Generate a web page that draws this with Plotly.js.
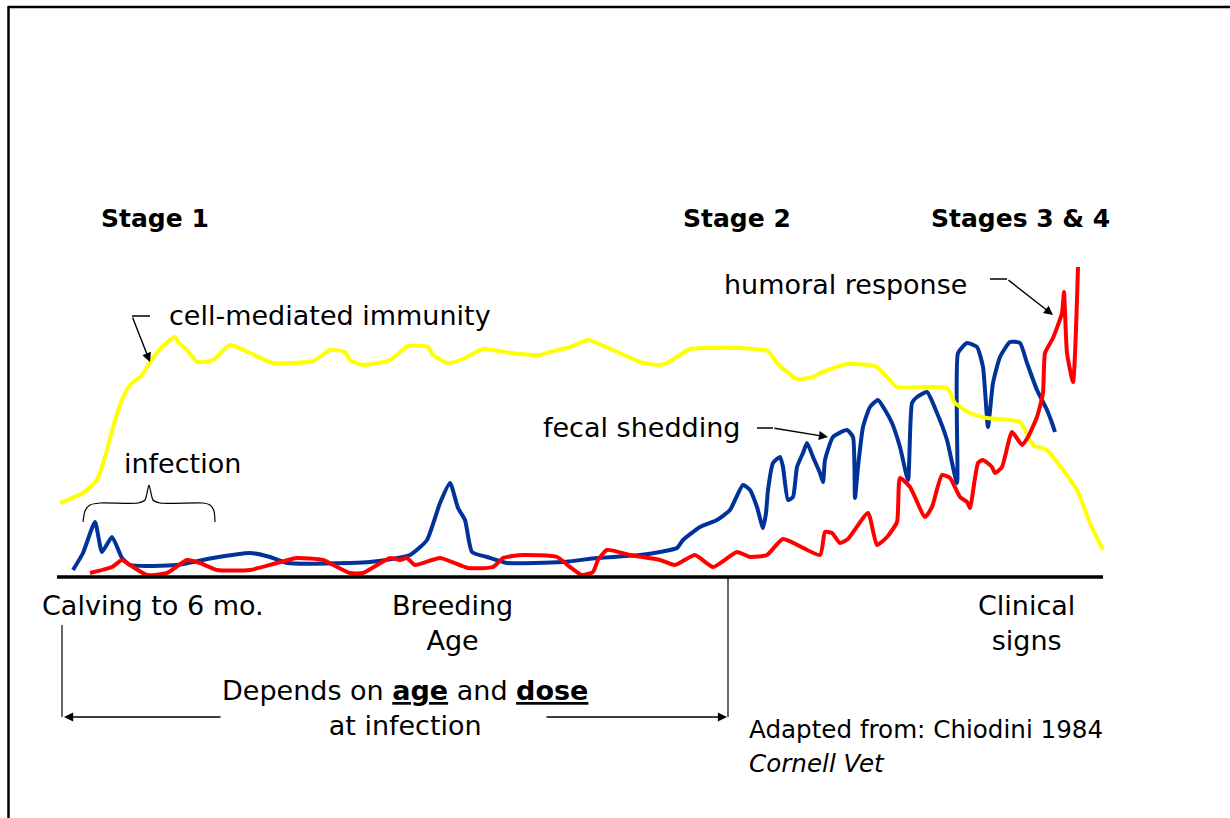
<!DOCTYPE html>
<html>
<head>
<meta charset="utf-8">
<script src="https://cdn.plot.ly/plotly-3.0.1.min.js"></script>
<style>html,body{margin:0;padding:0;background:#fff;}#chart{width:1230px;height:818px;}</style>
</head>
<body>
<div id="chart"></div>
<script>
// Time axis (arbitrary units along the life of the animal) and response level above baseline
const cmiX = [60,83,97,105,113,122,130,142,150,162,175,178,187,197,213,230,250,273,313,330,345,350,363,390,408,428,433,448,463,483,510,540,550,570,588,613,643,660,667,690,707,740,768,777,797,813,820,847,870,877,885,897,947,955,970,987,1020,1033,1047,1063,1077,1090,1103];
const cmiY = [74,84,97,120,150,177,192,202,215,230,240,235,227,215,217,232,224,214,216,227,225,217,212,217,231,230,222,214,218,228,224,222,225,230,237,227,214,212,214,228,229,229,226,214,198,200,204,213,212,210,202,190,189,174,164,159,155,132,127,107,87,54,27];

const shedX = [73,83,95,102,112,122,130,177,213,250,270,287,350,370,410,427,440,450,458,465,472,487,507,563,597,640,660,677,683,700,717,730,743,750,757,763,766,768,773,780,783,788,793,797,803,807,813,820,823,825,833,847,853,855,858,863,870,878,885,892,900,908,912,917,927,937,947,957,958,967,977,983,988,993,1000,1010,1020,1027,1037,1047,1052,1055];
const shedY = [7,24,55,25,40,19,12,12,19,24,20,14,14,15,22,37,74,94,69,57,25,20,14,15,19,22,25,29,37,50,57,67,92,87,70,49,64,87,114,120,110,77,80,110,124,134,120,104,95,117,140,147,140,79,110,150,170,177,167,154,130,97,174,180,185,164,137,94,224,234,230,210,150,194,220,235,234,214,187,167,154,145];

const humoralX = [90,112,122,130,147,167,187,200,217,250,277,297,323,337,350,363,390,400,407,415,440,468,493,503,523,557,570,582,593,598,607,630,660,675,695,713,737,750,767,783,820,825,832,840,848,868,877,887,897,900,910,925,932,942,950,960,967,970,978,983,992,995,1002,1012,1022,1028,1037,1043,1045,1053,1062,1064,1067,1073,1078];
const humoralY = [4,10,17,12,2,4,17,14,7,7,14,19,17,10,4,4,19,17,19,12,19,9,10,19,22,20,10,2,5,17,27,22,17,12,22,10,25,20,22,38,22,45,44,34,38,64,32,40,55,99,90,60,70,102,99,80,75,69,114,117,110,104,110,145,132,140,160,184,224,239,264,285,224,195,310];

// Brace over the infection period
const braceX = [83,85,90,100,138,145,149,153,160,203,210,214,215];
const braceY = [55,66,72,74,74,77,92,77,74,74,72,66,55];

// Leader segments of bent arrows
const cmiLeadX = [150,132], cmiLeadY = [261,261];
const humLeadX = [990,1007], humLeadY = [298,298];
const shedLeadX = [757,773], shedLeadY = [149,149];

const FONT = "DejaVu Sans, Verdana, sans-serif";

const traces = [
  {x: shedX, y: shedY, mode: 'lines', line: {color: '#003399', width: 4, shape: 'spline', smoothing: 0.5}, hoverinfo: 'skip'},
  {x: cmiX, y: cmiY, mode: 'lines', line: {color: '#FFFF00', width: 4, shape: 'spline', smoothing: 0.5}, hoverinfo: 'skip'},
  {x: humoralX, y: humoralY, mode: 'lines', line: {color: '#FF0000', width: 4, shape: 'spline', smoothing: 0.5}, hoverinfo: 'skip'},
  {x: braceX, y: braceY, mode: 'lines', line: {color: '#000', width: 1.2, shape: 'spline', smoothing: 0.6}, hoverinfo: 'skip'},
  {x: cmiLeadX, y: cmiLeadY, mode: 'lines', line: {color: '#000', width: 1.5}, hoverinfo: 'skip'},
  {x: humLeadX, y: humLeadY, mode: 'lines', line: {color: '#000', width: 1.5}, hoverinfo: 'skip'},
  {x: shedLeadX, y: shedLeadY, mode: 'lines', line: {color: '#000', width: 1.5}, hoverinfo: 'skip'}
];

function txt(x, y, text, size, opts) {
  return Object.assign({x: x, y: y, xref: 'x', yref: 'y', text: text, showarrow: false,
    font: {family: FONT, size: size, color: '#000'}, xanchor: 'center', yanchor: 'middle'}, opts || {});
}
function arrow(x, y, ax, ay) {
  return {x: x, y: y, ax: ax, ay: ay, xref: 'x', yref: 'y', axref: 'x', ayref: 'y', text: '',
    showarrow: true, arrowhead: 2, arrowsize: 1.3, arrowwidth: 1.4, arrowcolor: '#000'};
}

const annotations = [
  txt(155, 359, '<b>Stage 1</b>', 25),
  txt(737, 359, '<b>Stage 2</b>', 25),
  txt(1020, 359, '<b>Stages 3 &amp; 4</b>', 25),
  txt(845, 293, 'humoral response', 27),
  txt(330, 262, 'cell-mediated immunity', 27),
  txt(641, 150, 'fecal shedding', 27),
  txt(182, 114, 'infection', 27),
  txt(153, -28, 'Calving to 6 mo.', 27),
  txt(452, -46, 'Breeding<br>Age', 27),
  txt(1026, -46, 'Clinical<br>signs', 27),
  txt(405, -131, 'Depends on <b><u>age</u></b> and <b><u>dose</u></b><br>at infection', 27),
  txt(747, -152, 'Adapted from: Chiodini 1984', 24.6, {xanchor: 'left'}),
  txt(747, -186, '<i>Cornell Vet</i>', 24.6, {xanchor: 'left'}),
  arrow(150, 215, 132, 261),
  arrow(1053, 262, 1007, 298),
  arrow(828, 140, 773, 149),
  arrow(64, -140, 222, -140),
  arrow(727, -140, 545, -140)
];

const shapes = [
  {type: 'line', xref: 'x', yref: 'y', x0: 57, x1: 1103, y0: 0, y1: 0, line: {color: '#000', width: 3.5}},
  {type: 'line', xref: 'x', yref: 'y', x0: 728, x1: 728, y0: 0, y1: -140, line: {color: '#000', width: 1.2}},
  {type: 'line', xref: 'x', yref: 'y', x0: 62, x1: 62, y0: -48, y1: -140, line: {color: '#000', width: 1.2}},
  {type: 'line', xref: 'paper', yref: 'paper', x0: 8/1230, x1: 1, y0: 1 - 7/818, y1: 1 - 7/818, line: {color: '#000', width: 2.5}},
  {type: 'line', xref: 'paper', yref: 'paper', x0: 8.5/1230, x1: 8.5/1230, y0: 0, y1: 1 - 6/818, line: {color: '#000', width: 2.5}}
];

const layout = {
  width: 1230, height: 818,
  margin: {l: 0, r: 0, t: 0, b: 0},
  paper_bgcolor: '#fff', plot_bgcolor: '#fff',
  showlegend: false,
  xaxis: {range: [0, 1230], visible: false, fixedrange: true},
  yaxis: {range: [-241, 577], visible: false, fixedrange: true},
  annotations: annotations,
  shapes: shapes,
  font: {family: FONT}
};

Plotly.newPlot('chart', traces, layout, {displayModeBar: false, staticPlot: true});
</script>
</body>
</html>
